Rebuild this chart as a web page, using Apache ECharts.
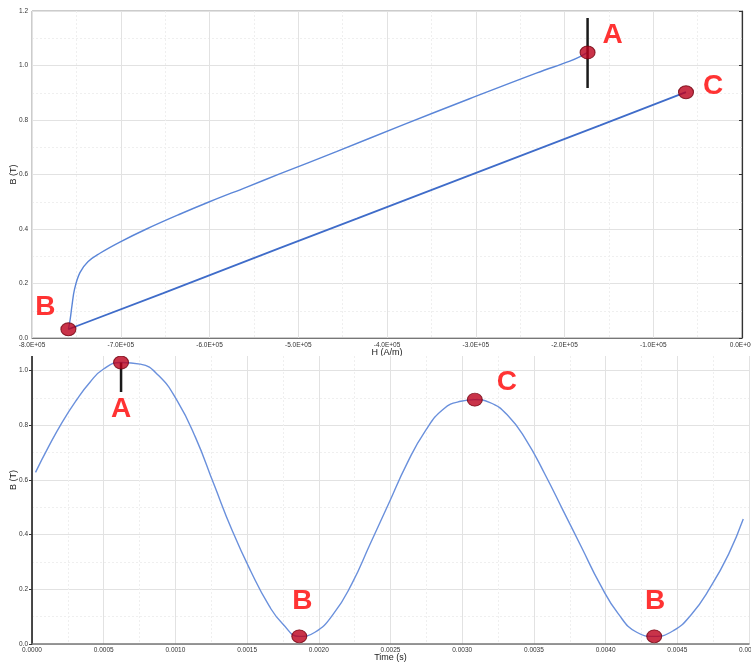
<!DOCTYPE html>
<html>
<head>
<meta charset="utf-8">
<script src="https://cdn.jsdelivr.net/npm/echarts@6/dist/echarts.min.js"></script>
<style>
  html, body { margin: 0; padding: 0; background: #fff; }
  #wrap { position: relative; width: 751px; height: 662px; overflow: hidden; }
  #loop { position: absolute; left: 0; top: 0; width: 751px; height: 356px; background: #fff; z-index: 2; }
  #wave { position: absolute; left: 0; top: 300px; width: 751px; height: 362px; z-index: 1; }
</style>
</head>
<body>
<div id="wrap">
  <div id="wave"></div>
  <div id="loop"></div>
</div>
<script>
// ---- B-H loop (upper panel) ----
// descending branch, from A down to B
const branchDownH = [-1.74e5, -1.81e5, -1.94e5, -2.31e5, -3.07e5, -3.82e5, -4.57e5, -5.21e5, -5.58e5, -6.00e5, -6.33e5, -6.71e5, -7.01e5, -7.23e5, -7.37e5, -7.46e5, -7.52e5, -7.55e5, -7.57e5, -7.59e5];
const branchDownB = [1.048, 1.035, 1.016, 0.973, 0.878, 0.782, 0.684, 0.602, 0.554, 0.500, 0.455, 0.400, 0.352, 0.312, 0.280, 0.240, 0.180, 0.118, 0.068, 0.032];
// ascending branch, from B up to C
const branchUpH = [-7.59e5, -6.52e5, -5.21e5, -4.34e5, -3.07e5, -1.60e5, -6.31e4];
const branchUpB = [0.032, 0.165, 0.330, 0.438, 0.597, 0.780, 0.902];
// labelled points on the loop
const loopPtNames = ['A', 'B', 'C'];
const loopPtH = [-1.74e5, -7.59e5, -6.31e4];
const loopPtB = [1.048, 0.032, 0.902];
// cursor through A
const loopCursorB = [1.174, 0.917];

// ---- B versus time (lower panel) ----
const timeS = [0.0000245, 0.000114, 0.000210, 0.000307, 0.000403, 0.000499, 0.000621, 0.000755, 0.000883, 0.001012, 0.001140, 0.001268, 0.001396, 0.001524, 0.001653, 0.001749, 0.001864, 0.001973, 0.002102, 0.002230, 0.002358, 0.002486, 0.002614, 0.002743, 0.002870, 0.002990, 0.003088, 0.003190, 0.003320, 0.003448, 0.003576, 0.003704, 0.003832, 0.003960, 0.004089, 0.004217, 0.004339, 0.004473, 0.004601, 0.004730, 0.004858, 0.004960];
const fluxB = [0.628, 0.720, 0.811, 0.890, 0.957, 1.006, 1.030, 1.024, 0.982, 0.890, 0.756, 0.585, 0.415, 0.268, 0.140, 0.073, 0.028, 0.043, 0.110, 0.220, 0.366, 0.512, 0.659, 0.780, 0.860, 0.888, 0.894, 0.884, 0.835, 0.744, 0.622, 0.488, 0.354, 0.220, 0.110, 0.043, 0.028, 0.049, 0.110, 0.207, 0.329, 0.457];
// labelled points on the waveform (indices into timeS / fluxB)
const wavePtNames = ['A', 'B', 'C', 'B'];
const wavePtIdx = [6, 16, 26, 36];
const waveCursorB = [1.030, 0.922];

// ---- tick formats ----
const hTickFmt = v => {
  if (v === 0) return '0.0E+00';
  const [m, e] = v.toExponential(1).split('e');
  const n = parseInt(e, 10);
  return m + 'E' + (n < 0 ? '-' : '+') + String(Math.abs(n)).padStart(2, '0');
};
const bTickFmt = v => v.toFixed(1);
const tTickFmt = v => v.toFixed(4);

// ---- shared styling ----
const FONT = 'Liberation Sans';
const tickText = { fontFamily: FONT, fontSize: 6.5, color: '#333' };
const nameText = { fontFamily: FONT, fontSize: 9, color: '#222' };
const gridMajor = { show: true, lineStyle: { color: '#e2e2e2', width: 1 } };
const gridMinor = { show: true, lineStyle: { color: '#efefef', width: 1, type: [2, 2] } };
const markerStyle = { color: '#bb001c', borderColor: '#70000e', borderWidth: 1 };
const letterStyle = { fontFamily: FONT, fontWeight: 'bold', fontSize: 28, color: '#ff0000' };
const loopLabelOffsets = [[25, -17], [-23, -22], [27, -6]];
const waveLabelOffsets = [[0, 47], [3, -35], [32, -17], [1, -35]];

const zip = (xs, ys) => xs.map((x, i) => [x, ys[i]]);

// ---- upper panel ----
const loopChart = echarts.init(document.getElementById('loop'), null, { renderer: 'canvas' });
loopChart.setOption({
  animation: false,
  backgroundColor: '#fff',
  grid: { left: 32, right: 9, top: 11, bottom: 18, containLabel: false, outerBoundsMode: 'none',
          show: true, borderColor: '#999', borderWidth: 1 },
  xAxis: {
    type: 'value', min: -8e5, max: 0, interval: 1e5,
    name: 'H (A/m)', nameLocation: 'middle', nameGap: 10, nameMoveOverlap: false, nameTextStyle: nameText,
    axisLine: { lineStyle: { color: '#777' } },
    axisTick: { show: false },
    axisLabel: Object.assign({ formatter: hTickFmt, margin: 4 }, tickText),
    splitLine: gridMajor,
    minorTick: { show: false, splitNumber: 2 },
    minorSplitLine: gridMinor
  },
  yAxis: {
    type: 'value', min: 0, max: 1.2, interval: 0.2,
    name: 'B (T)', nameLocation: 'middle', nameGap: 14, nameMoveOverlap: false, nameTextStyle: nameText,
    axisLine: { show: true, lineStyle: { color: '#333', width: 1.2 } },
    axisTick: { show: true, length: 3, lineStyle: { color: '#333' } },
    axisLabel: Object.assign({ formatter: bTickFmt, margin: 4 }, tickText),
    splitLine: gridMajor,
    minorTick: { show: false, splitNumber: 2 },
    minorSplitLine: gridMinor
  },
  series: [
    {
      type: 'line', data: zip(branchDownH, branchDownB), smooth: 0.4,
      showSymbol: false, lineStyle: { color: '#5b86d8', width: 1.4 }
    },
    {
      type: 'line', data: zip(branchUpH, branchUpB), smooth: false,
      showSymbol: false, lineStyle: { color: '#3f6cc9', width: 1.8 }
    },
    {
      type: 'line', data: [[loopPtH[0], loopCursorB[0]], [loopPtH[0], loopCursorB[1]]],
      showSymbol: false, lineStyle: { color: '#1a1a1a', width: 2.5 }, z: 3
    },
    {
      type: 'scatter', symbol: 'circle', symbolSize: [15, 13], z: 5,
      itemStyle: markerStyle,
      data: loopPtNames.map((n, i) => ({
        value: [loopPtH[i], loopPtB[i]],
        label: Object.assign({ show: true, formatter: n, position: 'inside', offset: loopLabelOffsets[i] }, letterStyle)
      }))
    }
  ]
});

// ---- lower panel ----
const waveChart = echarts.init(document.getElementById('wave'), null, { renderer: 'canvas' });
waveChart.setOption({
  animation: false,
  backgroundColor: '#fff',
  grid: { left: 32, right: 2, top: 16, bottom: 18, containLabel: false, outerBoundsMode: 'none' },
  xAxis: {
    type: 'value', min: 0, max: 0.005, interval: 0.0005,
    name: 'Time (s)', nameLocation: 'middle', nameGap: 9, nameMoveOverlap: false, nameTextStyle: nameText,
    axisLine: { lineStyle: { color: '#777', width: 1.5 } },
    axisTick: { show: false },
    axisLabel: Object.assign({ formatter: tTickFmt, margin: 3 }, tickText),
    splitLine: gridMajor,
    minorTick: { show: false, splitNumber: 2 },
    minorSplitLine: gridMinor
  },
  yAxis: {
    type: 'value', min: 0, max: 1.2, interval: 0.2,
    name: 'B (T)', nameLocation: 'middle', nameGap: 14, nameMoveOverlap: false, nameTextStyle: nameText,
    axisLine: { show: true, lineStyle: { color: '#111', width: 1.5 } },
    axisTick: { show: true, length: 3, lineStyle: { color: '#333' } },
    axisLabel: Object.assign({ formatter: bTickFmt, margin: 4 }, tickText),
    splitLine: gridMajor,
    minorTick: { show: false, splitNumber: 2 },
    minorSplitLine: gridMinor
  },
  series: [
    {
      type: 'line', data: zip(timeS, fluxB), smooth: 0.5,
      showSymbol: false, lineStyle: { color: '#6a90dc', width: 1.4 }
    },
    {
      type: 'line', data: [[timeS[wavePtIdx[0]], waveCursorB[0]], [timeS[wavePtIdx[0]], waveCursorB[1]]],
      showSymbol: false, lineStyle: { color: '#1a1a1a', width: 2.5 }, z: 3
    },
    {
      type: 'scatter', symbol: 'circle', symbolSize: [15, 13], z: 5,
      itemStyle: markerStyle,
      data: wavePtNames.map((n, i) => ({
        value: [timeS[wavePtIdx[i]], fluxB[wavePtIdx[i]]],
        label: Object.assign({ show: true, formatter: n, position: 'inside', offset: waveLabelOffsets[i] }, letterStyle)
      }))
    }
  ]
});
</script>
</body>
</html>
